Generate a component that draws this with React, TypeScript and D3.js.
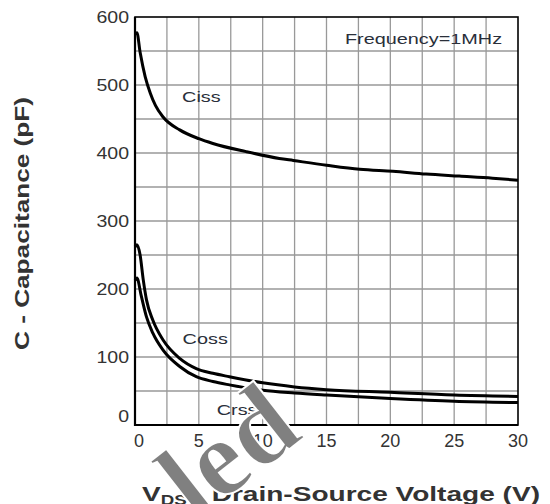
import { useEffect, useRef } from "react";
import * as d3 from "d3";

// chart size
const width = 550;
const height = 504;
const margin = { top: 17, right: 32, bottom: 79, left: 135 };

// Ciss curve (V, pF)
const cissV = [0, 0.15, 0.4, 0.8, 1.2, 1.6, 2.2, 3.5, 5, 6.1, 8.7, 11.3, 12.4, 15, 17.6, 20.2, 22.8, 25.4, 28, 30];
const cissC = [575, 577, 548, 512, 488, 470, 453, 434, 421, 414, 402, 392, 389, 382, 376, 373, 369, 366, 363, 360];

// Coss curve
const cossV = [0, 0.15, 0.4, 0.65, 0.9, 1.4, 2.2, 3.5, 4.8, 6.1, 7.4, 10, 12.5, 15, 20, 25, 30];
const cossC = [262, 265, 250, 213, 184, 154, 125, 98, 83, 76, 71, 62, 56, 52, 48, 44, 42];

// Crss curve
const crssV = [0, 0.15, 0.5, 0.9, 1.4, 2.2, 3.5, 4.8, 6.1, 7.4, 10, 12.5, 15, 20, 25, 30];
const crssC = [213, 216, 189, 159, 135, 110, 86, 71, 64, 59, 51, 47, 44, 39, 35, 33];

// axis ticks
const xTicks = [0, 5, 10, 15, 20, 25, 30];
const yTicks = [0, 100, 200, 300, 400, 500, 600];

const textColor = "#333";

const drawChart = (el: SVGSVGElement) => {
    const svg = d3.select(el);
    svg.selectAll("*").remove();

    const x = d3.scaleLinear().domain([0, 30]).range([margin.left, width - margin.right]);
    const y = d3.scaleLinear().domain([0, 600]).range([height - margin.bottom, margin.top]);

    // grid every 2.5 V and 50 pF
    const grid = svg.append("g").attr("stroke", "#999").attr("stroke-width", 1.3);
    grid.selectAll("line.v")
        .data(d3.range(2.5, 30, 2.5))
        .join("line")
        .attr("x1", d => x(d)).attr("x2", d => x(d))
        .attr("y1", y(0)).attr("y2", y(600));
    grid.selectAll("line.h")
        .data(d3.range(50, 600, 50))
        .join("line")
        .attr("x1", x(0)).attr("x2", x(30))
        .attr("y1", d => y(d)).attr("y2", d => y(d));

    // frame
    svg.append("rect")
        .attr("x", x(0)).attr("y", y(600))
        .attr("width", x(30) - x(0)).attr("height", y(0) - y(600))
        .attr("fill", "none").attr("stroke", "#000").attr("stroke-width", 1.6);
    svg.append("path")
        .attr("d", `M${x(0)},${y(600)}V${y(0)}H${x(30)}`)
        .attr("fill", "none").attr("stroke", "#000").attr("stroke-width", 2.2);

    // curves
    const line = d3.line<[number, number]>()
        .x(d => x(d[0]))
        .y(d => y(d[1]))
        .curve(d3.curveMonotoneX);
    const series: [number[], number[]][] = [[cissV, cissC], [cossV, cossC], [crssV, crssC]];
    svg.append("g")
        .selectAll("path")
        .data(series)
        .join("path")
        .attr("d", ([vs, cs]) => line(vs.map((v, i) => [v, cs[i]] as [number, number])))
        .attr("fill", "none")
        .attr("stroke", "#000")
        .attr("stroke-width", 3)
        .attr("stroke-linejoin", "round");

    // y tick labels (the picture is a bit stretched sideways)
    svg.append("g")
        .attr("font-family", "Arial, 'Liberation Sans', sans-serif")
        .attr("font-size", 16)
        .attr("fill", textColor)
        .attr("text-anchor", "end")
        .selectAll("text")
        .data(yTicks)
        .join("text")
        .attr("transform", d => `translate(${x(0) - 6},${d === 0 ? y(d) - 9 : y(d)}) scale(1.22,1)`)
        .attr("dy", "0.35em")
        .text(d => d);

    // x tick labels
    svg.append("g")
        .attr("font-family", "Arial, 'Liberation Sans', sans-serif")
        .attr("font-size", 18)
        .attr("fill", textColor)
        .attr("text-anchor", "middle")
        .selectAll("text")
        .data(xTicks)
        .join("text")
        .attr("x", d => (d === 0 ? x(d) + 4 : x(d)))
        .attr("y", y(0) + 16)
        .attr("dy", "0.35em")
        .text(d => d);

    // curve labels
    const labels = [
        { text: "Ciss", v: 5.2, c: 483 },
        { text: "Coss", v: 5.5, c: 127 },
        { text: "Crss", v: 8, c: 23 },
        { text: "Frequency=1MHz", v: 22.6, c: 569 },
    ];
    svg.append("g")
        .attr("font-family", "Arial, 'Liberation Sans', sans-serif")
        .attr("font-size", 15.5)
        .attr("fill", "#2a2f3a")
        .attr("text-anchor", "middle")
        .selectAll("text")
        .data(labels)
        .join("text")
        .attr("transform", d => `translate(${x(d.v)},${y(d.c)}) scale(1.28,1)`)
        .attr("dy", "0.35em")
        .text(d => d.text);

    // y axis title
    svg.append("text")
        .attr("transform", `translate(29,${(97 + 350) / 2}) rotate(-90)`)
        .attr("text-anchor", "middle")
        .attr("font-family", "Arial, 'Liberation Sans', sans-serif")
        .attr("font-weight", "bold")
        .attr("font-size", 20)
        .attr("fill", textColor)
        .attr("textLength", 253)
        .attr("lengthAdjust", "spacingAndGlyphs")
        .text("C - Capacitance (pF)");

    // x axis title
    const xt = svg.append("text")
        .attr("x", 142)
        .attr("y", 501)
        .attr("font-family", "Arial, 'Liberation Sans', sans-serif")
        .attr("font-weight", "bold")
        .attr("font-size", 21)
        .attr("fill", textColor)
        .attr("textLength", 398)
        .attr("lengthAdjust", "spacingAndGlyphs");
    xt.append("tspan").text("V");
    xt.append("tspan").attr("font-size", 14).attr("dy", 4).text("DS");
    xt.append("tspan").attr("dy", -4).text(" - Drain-Source Voltage (V)");

    // watermark fragment
    svg.append("text")
        .attr("transform", "translate(195,523) rotate(-38)")
        .attr("font-family", "'Liberation Serif', 'DejaVu Serif', serif")
        .attr("font-weight", "bold")
        .attr("font-size", 110)
        .attr("fill", "#808080")
        .attr("stroke", "#fff")
        .attr("stroke-width", 2)
        .text("led");
};

export default function App() {
    const ref = useRef<SVGSVGElement>(null);
    useEffect(() => {
        if (ref.current) drawChart(ref.current);
    }, []);
    return (
        <svg
            ref={ref}
            width={width}
            height={height}
            style={{ position: "fixed", left: 0, top: 0, background: "#fff" }}
        />
    );
}
